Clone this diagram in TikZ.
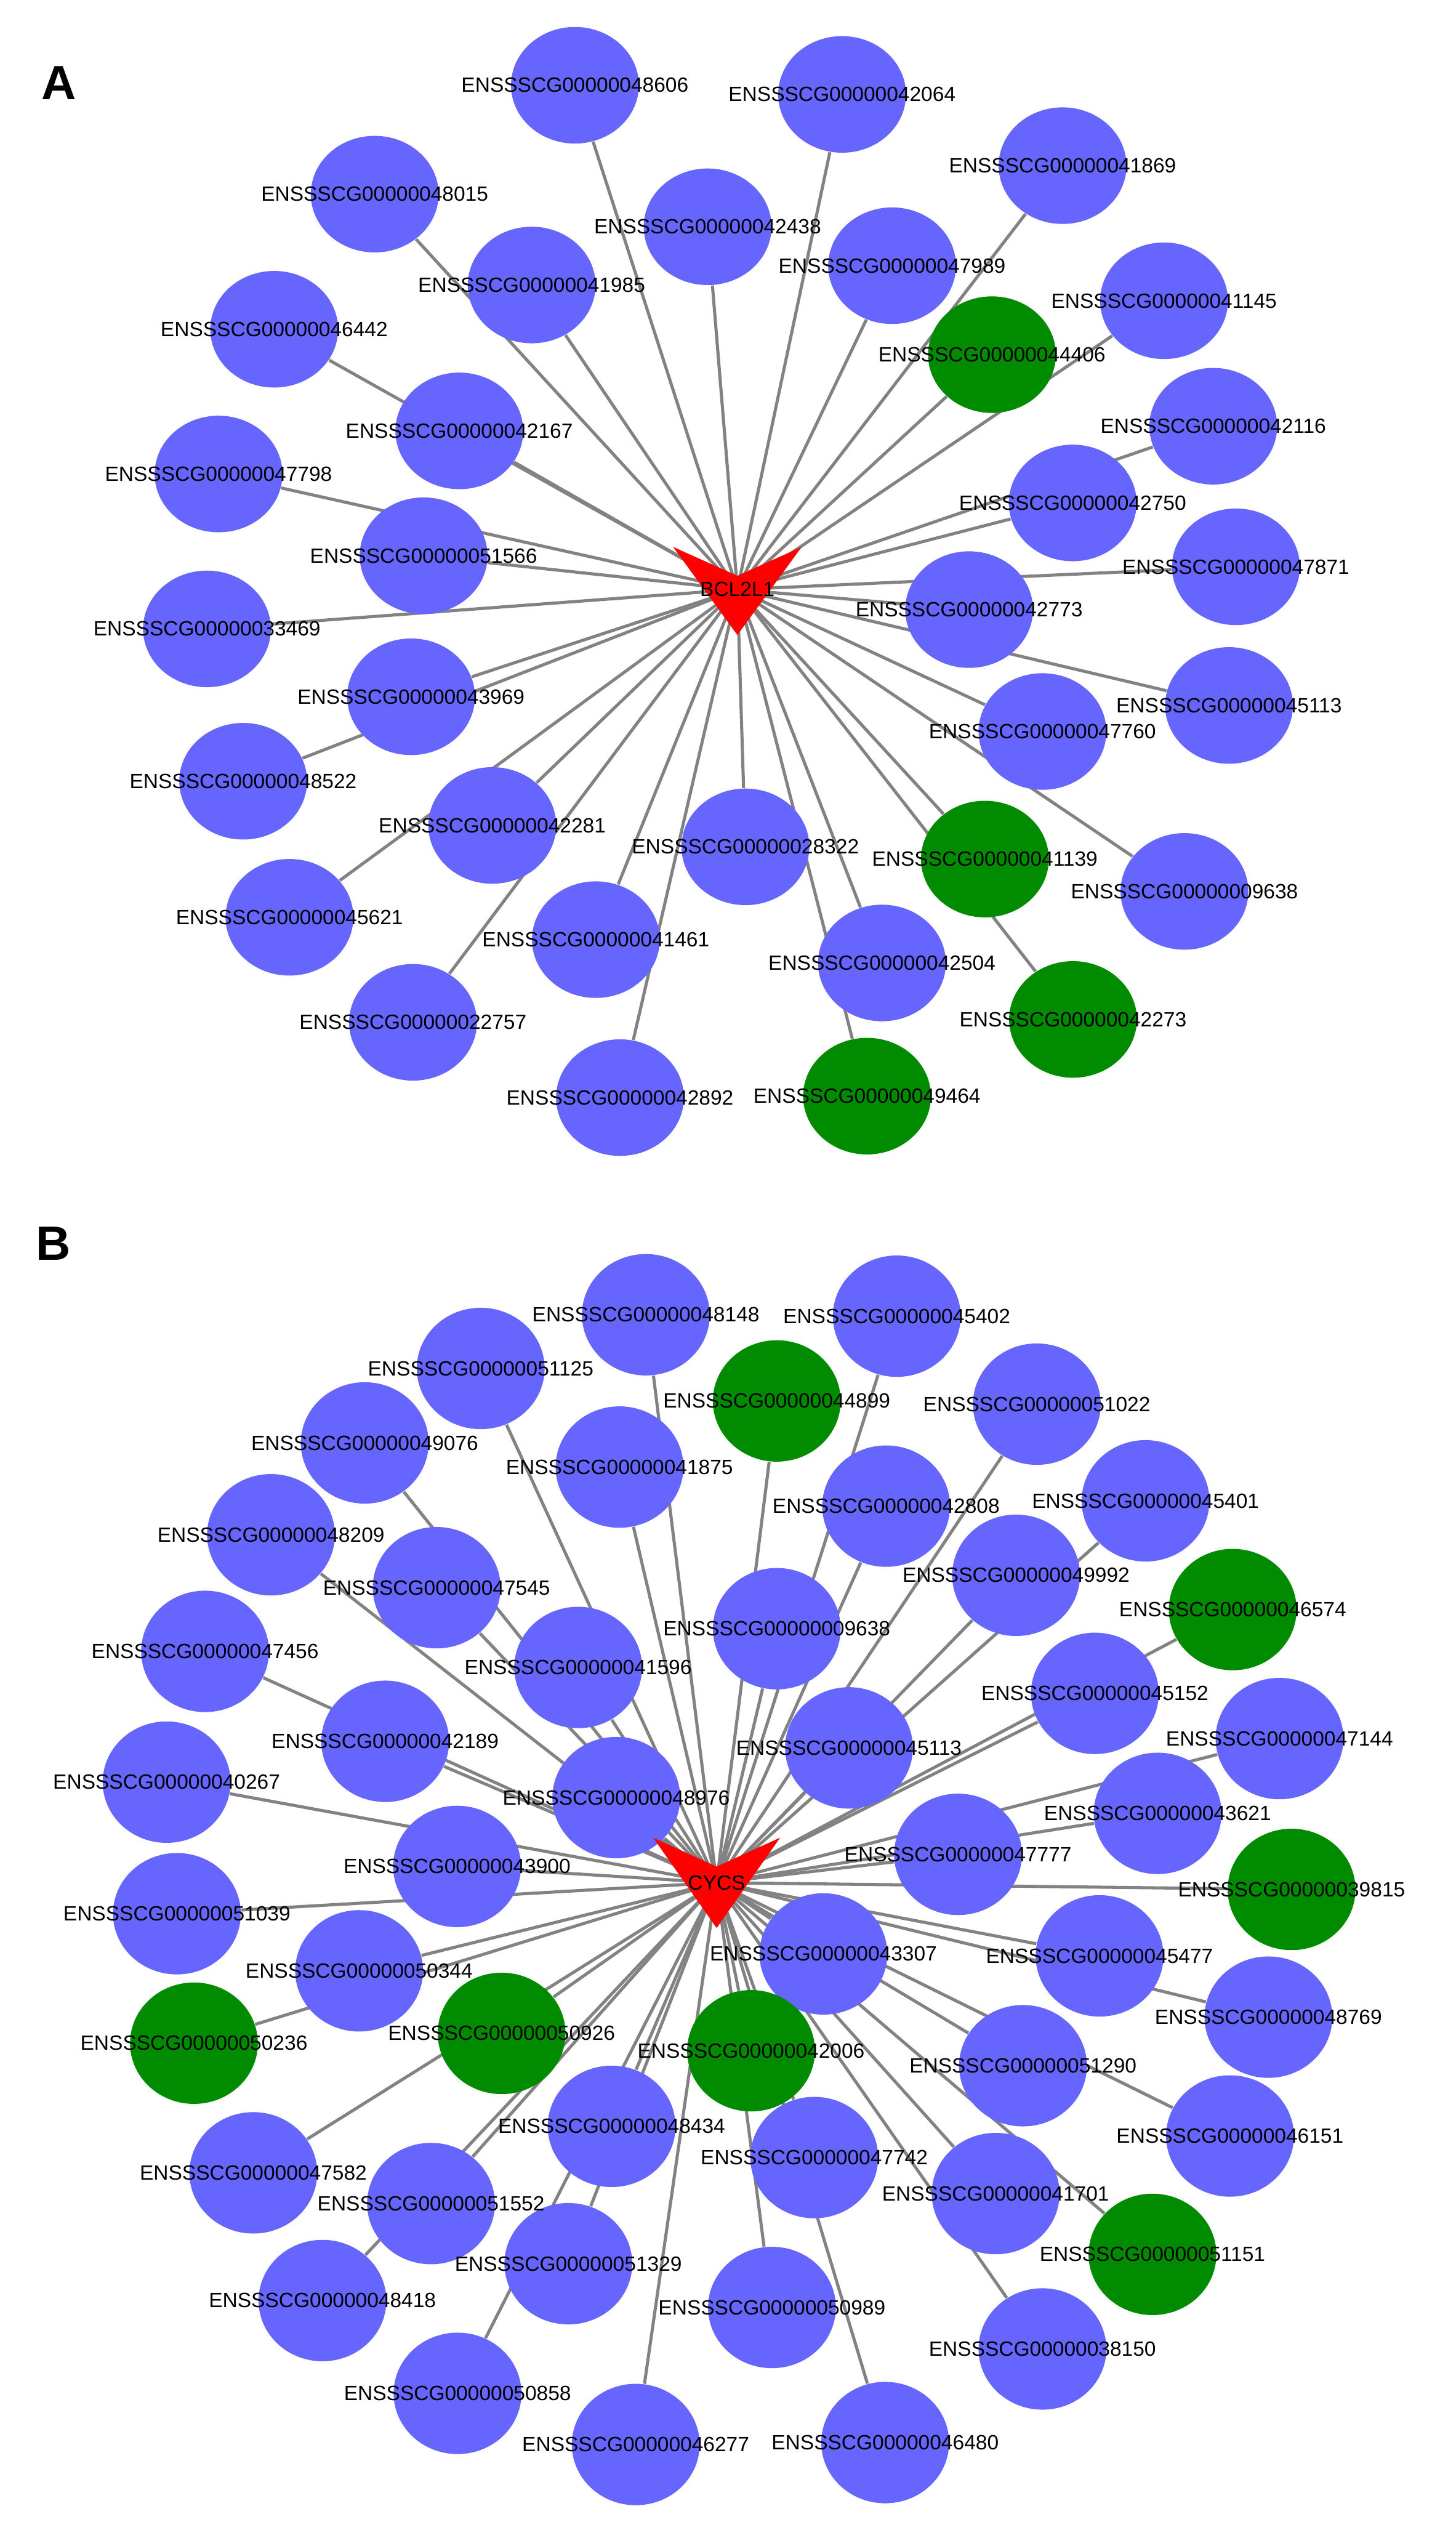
\documentclass[tikz,border=0pt]{standalone}
\usepackage{fontspec}
\setmainfont{Liberation Sans}
\usetikzlibrary{shapes.geometric, backgrounds}
\definecolor{geneblue}{RGB}{102,102,255}
\definecolor{genegreen}{RGB}{0,139,0}
\definecolor{hubred}{RGB}{255,0,0}
\definecolor{linkgray}{RGB}{130,130,130}

% gene ids of the two networks
\def\genesA{048606,042064,041869,048015,042438,041985,047989,041145,046442,044406,042116,042167,047798,042750,051566,047871,033469,042773,043969,045113,047760,048522,042281,028322,041139,009638,045621,041461,042504,042273,022757,042892,049464}
\def\genesB{048148,045402,051125,044899,051022,049076,041875,042808,045401,048209,047545,049992,046574,009638,047456,041596,045152,047144,042189,045113,040267,048976,043621,043900,047777,039815,051039,043307,045477,050344,048769,050236,050926,042006,051290,048434,046151,047582,047742,051552,041701,051151,048418,051329,050989,038150,050858,046277,046480}

\begin{document}
\begin{tikzpicture}[
  x=0.02cm, y=-0.02cm,
  gene/.style={ellipse, inner sep=0pt, minimum width=1.59cm, minimum height=1.45cm, fill=geneblue},
  geneb/.style={gene, minimum height=1.51cm},
  greengene/.style={fill=genegreen},
  hub/.style={circle, inner sep=0pt, minimum size=2pt},
  glabel/.style={font=\fontsize{7.3}{8}\selectfont, inner sep=0pt},
  link/.style={draw=linkgray, line width=1.1pt},
  panel/.style={font=\fontsize{17}{20}\selectfont\bfseries, inner sep=0pt}
]
\useasboundingbox (0,0) rectangle (905,1568);

% Panel A: BCL2L1
\node[panel] (pa) at (36.5,51.7) {A};
\node[hub] (bcl) at (458.5,366.5) {};

\node[gene] (a048606) at (357.5,53) {};
\node[gene] (a042064) at (523.6,58.7) {};
\node[gene] (a041869) at (660.7,103) {};
\node[gene] (a048015) at (233,120.7) {};
\node[gene] (a042438) at (440,141) {};
\node[gene] (a041985) at (330.6,177.2) {};
\node[gene] (a047989) at (554.7,165.2) {};
\node[gene] (a041145) at (723.8,187) {};
\node[gene] (a046442) at (170.5,204.7) {};
\node[gene, greengene] (a044406) at (616.8,220.5) {};
\node[gene] (a042116) at (754.4,265) {};
\node[gene] (a042167) at (285.6,267.9) {};
\node[gene] (a047798) at (135.9,294.7) {};
\node[gene] (a042750) at (667,312.7) {};
\node[gene] (a051566) at (263.4,345.5) {};
\node[gene] (a047871) at (768.5,352.4) {};
\node[gene] (a033469) at (128.7,391) {};
\node[gene] (a042773) at (602.6,379) {};
\node[gene] (a043969) at (255.6,433.2) {};
\node[gene] (a045113) at (764.2,438.6) {};
\node[gene] (a047760) at (648.2,454.8) {};
\node[gene] (a048522) at (151.2,485.7) {};
\node[gene] (a042281) at (306.1,513.2) {};
\node[gene] (a028322) at (463.5,526.5) {};
\node[gene, greengene] (a041139) at (612.4,534.1) {};
\node[gene] (a009638) at (736.5,554.2) {};
\node[gene] (a045621) at (180,570.3) {};
\node[gene] (a041461) at (370.5,584.2) {};
\node[gene] (a042504) at (548.4,598.7) {};
\node[gene, greengene] (a042273) at (667.2,633.8) {};
\node[gene] (a022757) at (256.8,635.6) {};
\node[gene] (a042892) at (385.5,682.4) {};
\node[gene, greengene] (a049464) at (539.1,681.5) {};

\fill[hubred] (bcl.center) ++(-40,-26.5) -- ++(40,18) -- ++(40,-18) -- ++(-40,54.8) -- cycle;

% Panel B: CYCS
\node[panel] (pb) at (33.2,773) {B};
\node[hub] (cycs) at (445.6,1170.5) {};

\node[geneb] (b048148) at (401.6,817.4) {};
\node[geneb] (b045402) at (557.6,818.3) {};
\node[geneb] (b051125) at (298.9,850.8) {};
\node[geneb, greengene] (b044899) at (483,871) {};
\node[geneb] (b051022) at (644.7,873) {};
\node[geneb] (b049076) at (226.8,897.1) {};
\node[geneb] (b041875) at (385.2,912.1) {};
\node[geneb] (b042808) at (551,936.4) {};
\node[geneb] (b045401) at (712.3,933.1) {};
\node[geneb] (b048209) at (168.5,954.2) {};
\node[geneb] (b047545) at (271.5,987.1) {};
\node[geneb] (b049992) at (631.8,979.4) {};
\node[geneb, greengene] (b046574) at (766.5,1000.7) {};
\node[geneb] (b009638) at (483,1012.6) {};
\node[geneb] (b047456) at (127.5,1026.7) {};
\node[geneb] (b041596) at (359.5,1036.7) {};
\node[geneb] (b045152) at (680.8,1052.8) {};
\node[geneb] (b047144) at (795.6,1080.9) {};
\node[geneb] (b042189) at (239.5,1082.6) {};
\node[geneb] (b045113) at (527.9,1086.7) {};
\node[geneb] (b040267) at (103.6,1108) {};
\node[geneb] (b048976) at (383.2,1117.6) {};
\node[geneb] (b043621) at (719.8,1127.4) {};
\node[geneb] (b043900) at (284.2,1160.4) {};
\node[geneb] (b047777) at (595.7,1152.9) {};
\node[geneb, greengene] (b039815) at (803.1,1174.7) {};
\node[geneb] (b051039) at (110,1189.8) {};
\node[geneb] (b043307) at (512,1214.8) {};
\node[geneb] (b045477) at (683.7,1216) {};
\node[geneb] (b050344) at (223.3,1225.3) {};
\node[geneb] (b048769) at (788.7,1254.1) {};
\node[geneb, greengene] (b050236) at (120.6,1270.3) {};
\node[geneb, greengene] (b050926) at (311.9,1264.2) {};
\node[geneb, greengene] (b042006) at (467,1275) {};
\node[geneb] (b051290) at (636.1,1284.3) {};
\node[geneb] (b048434) at (380.3,1322) {};
\node[geneb] (b046151) at (764.8,1328) {};
\node[geneb] (b047582) at (157.5,1350.9) {};
\node[geneb] (b047742) at (506.3,1341.4) {};
\node[geneb] (b051552) at (268,1370) {};
\node[geneb] (b041701) at (619.1,1363.8) {};
\node[geneb, greengene] (b051151) at (716.6,1401.6) {};
\node[geneb] (b048418) at (200.5,1430.3) {};
\node[geneb] (b051329) at (353.4,1407.4) {};
\node[geneb] (b050989) at (480,1434.6) {};
\node[geneb] (b038150) at (648.2,1460.4) {};
\node[geneb] (b050858) at (284.5,1488) {};
\node[geneb] (b046277) at (395.3,1519.8) {};
\node[geneb] (b046480) at (550.4,1518.6) {};

\fill[hubred] (cycs.center) ++(-39.5,-28) -- ++(39.5,18) -- ++(39.5,-18) -- ++(-39.5,56.2) -- cycle;

% Links behind the genes
\begin{scope}[on background layer]
  \foreach \g in \genesA \draw[link] (bcl) -- (a\g);
  \foreach \g in \genesB \draw[link] (cycs) -- (b\g);
\end{scope}

% Labels on top
\foreach \g in \genesA \node[glabel] (ta\g) at (a\g) {ENSSSCG00000\g};
\foreach \g in \genesB \node[glabel] (tb\g) at (b\g) {ENSSSCG00000\g};
\node[glabel] (bcltxt) at (bcl) {BCL2L1};
\node[glabel] (cycstxt) at (cycs) {CYCS};

\end{tikzpicture}
\end{document}
